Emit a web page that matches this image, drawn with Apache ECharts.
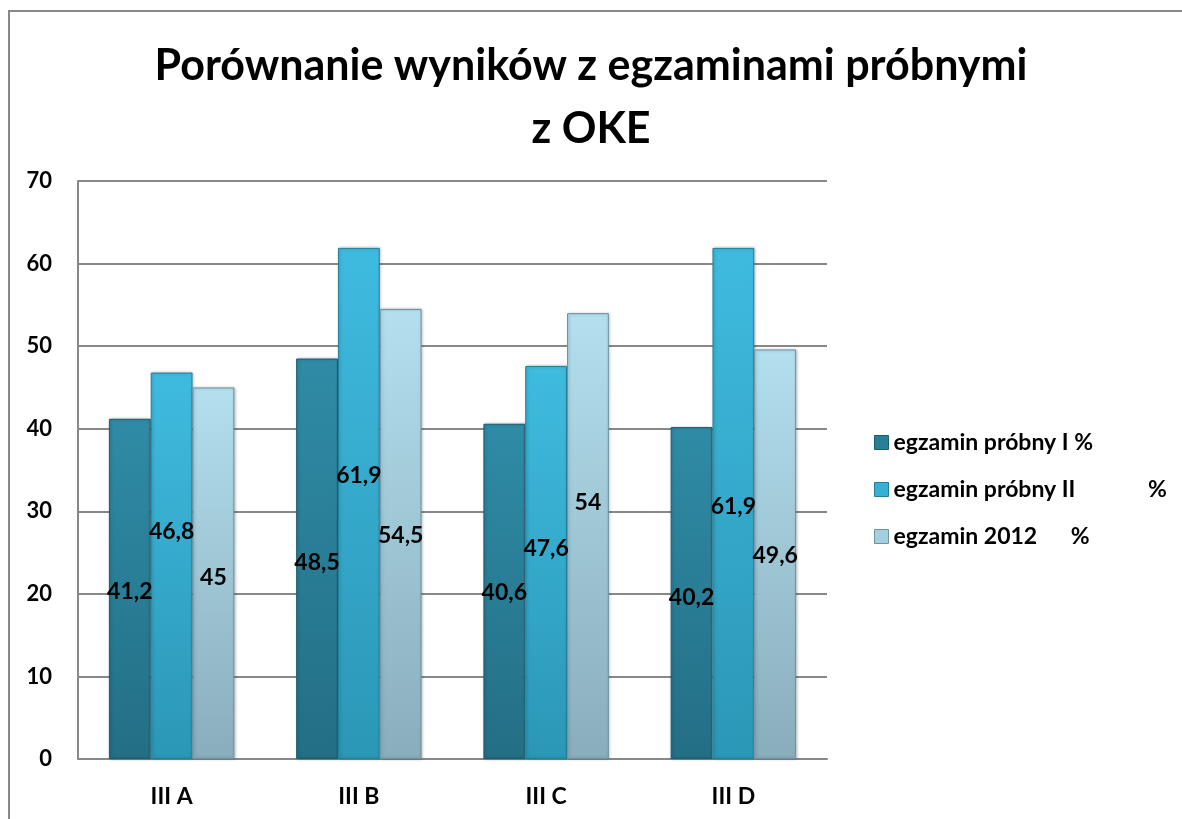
<!DOCTYPE html>
<html><head><meta charset="utf-8">
<script src="https://cdn.jsdelivr.net/npm/echarts@6/dist/echarts.min.js"></script>
<style>html,body{margin:0;padding:0;background:#fff}#c{width:1182px;height:819px}</style>
</head><body><div id="c"></div>
<script>
const categories = ['III A', 'III B', 'III C', 'III D'];
const seriesNames = ['egzamin próbny I %', 'egzamin próbny II             %', 'egzamin 2012      %'];
const egzaminI = [41.2, 48.5, 40.6, 40.2];
const egzaminII = [46.8, 61.9, 47.6, 61.9];
const egzamin2012 = [45, 54.5, 54, 49.6];
const yTicks = [0, 10, 20, 30, 40, 50, 60, 70];

// label vertical shifts (px) reproducing manually moved labels
const shiftI = [3, 4, 1, 5];
const shiftII = [-34, -28, -14, 3];
const shift2012 = [4, 2, -33, 1];

const FONT = 'Lato, "Open Sans", sans-serif';
const W = 'bold';
const grad = (top, bottom) => new echarts.graphic.LinearGradient(0, 0, 0, 1, [{offset: 0, color: top}, {offset: 1, color: bottom}]);
const styles = [
  {c: grad('#2f8ba6', '#236f85'), b: '#1d5c6e', leg: '#2a7f98'},
  {c: grad('#3fbbe0', '#2b97b6'), b: '#23809a', leg: '#38b0d4'},
  {c: grad('#b3dfee', '#8aadbc'), b: '#6f93a2', leg: '#a4cfdf'}
];
function mk(i, vals, shifts) {
  return {
    name: seriesNames[i], type: 'bar', barGap: '0%', barCategoryGap: '33%',
    itemStyle: {color: styles[i].c, borderColor: styles[i].b, borderWidth: 1,
      shadowColor: 'rgba(0,0,0,0.25)', shadowBlur: 3, shadowOffsetX: 1},
    data: vals.map((v, k) => ({value: v, label: {offset: [0, shifts[k]]}})),
    label: {show: true, position: 'inside', color: '#000', fontWeight: W, fontSize: 23, fontFamily: FONT,
      formatter: p => String(p.value).replace('.', ',')}
  };
}
const chart = echarts.init(document.getElementById('c'));
chart.setOption({
  animation: false,
  title: {text: 'Porównanie wyników z egzaminami próbnymi\nz OKE', left: 'center', top: 30,
    textStyle: {fontFamily: FONT, fontWeight: W, fontSize: 43, lineHeight: 63, color: '#000'}},
  graphic: [{type: 'polyline', shape: {points: [[9, 830], [9, 11], [1190, 11]]}, style: {stroke: '#888', lineWidth: 2, fill: null}}],
  grid: {left: 78, right: 355, top: 181, bottom: 60},
  legend: {orient: 'vertical', left: 869, top: 426, itemGap: 24, itemWidth: 14, itemHeight: 14, itemTextGap: 5, icon: 'rect',
    textStyle: {fontFamily: FONT, fontWeight: W, fontSize: 23, color: '#000'},
    data: seriesNames.map((n, i) => ({name: n, itemStyle: {color: styles[i].leg, borderColor: styles[i].b, borderWidth: 1, shadowBlur: 0}}))},
  xAxis: {type: 'category', data: categories,
    axisLine: {lineStyle: {color: '#888', width: 2}}, axisTick: {show: false},
    axisLabel: {margin: 26, fontFamily: FONT, fontWeight: W, fontSize: 23, color: '#000'}},
  yAxis: {type: 'value', min: 0, max: 70, interval: 10,
    axisLine: {show: true, lineStyle: {color: '#888', width: 2}}, axisTick: {show: false},
    splitLine: {lineStyle: {color: '#888', width: 2}},
    axisLabel: {margin: 26, fontFamily: FONT, fontWeight: W, fontSize: 22, color: '#000',
      formatter: v => yTicks.includes(v) ? String(v) : ''}},
  series: [mk(0, egzaminI, shiftI), mk(1, egzaminII, shiftII), mk(2, egzamin2012, shift2012)]
});
</script></body></html>
